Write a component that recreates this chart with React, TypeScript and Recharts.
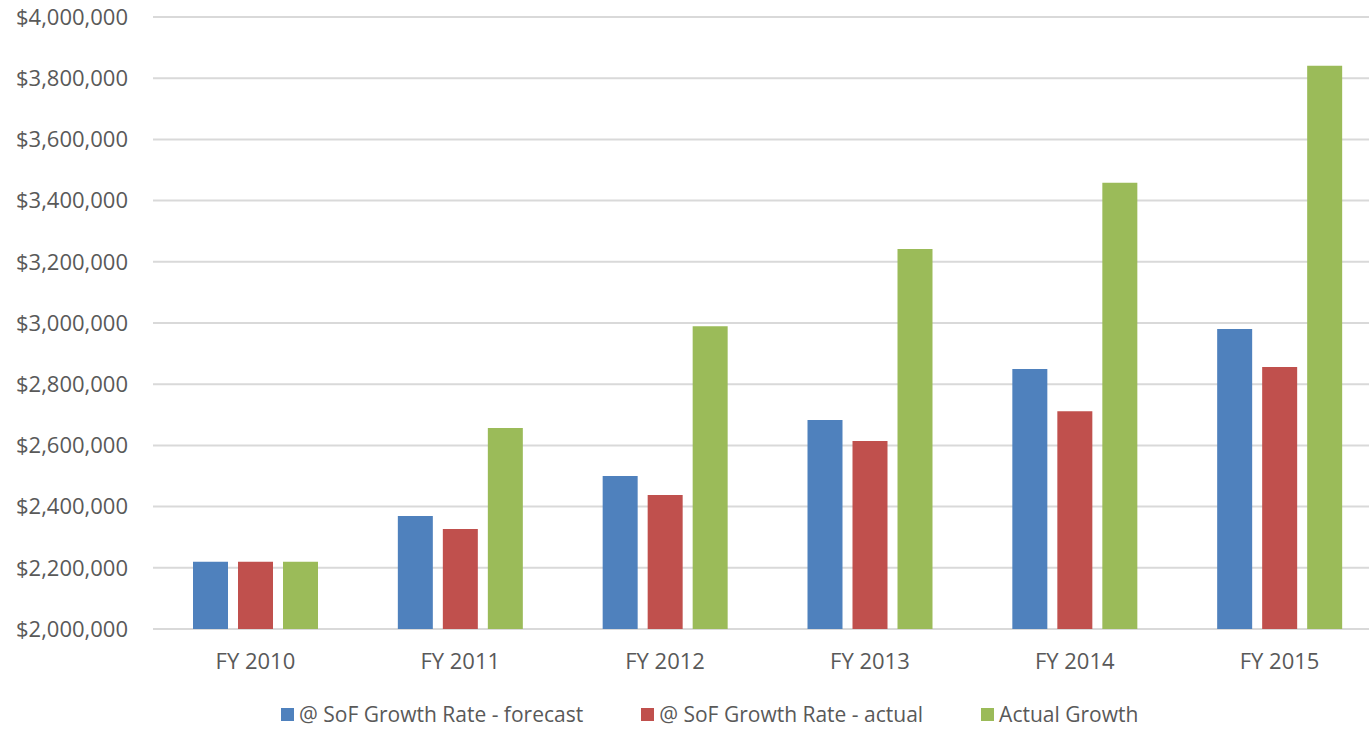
import React from "react";
import { BarChart, Bar, XAxis, YAxis, CartesianGrid, Legend } from "recharts";

const CATEGORIES = ["FY 2010", "FY 2011", "FY 2012", "FY 2013", "FY 2014", "FY 2015"];
const FORECAST = [2220000, 2369000, 2500000, 2683000, 2850000, 2980000];
const RATE_ACTUAL = [2220000, 2327000, 2438000, 2614000, 2712000, 2856000];
const ACTUAL_GROWTH = [2220000, 2657000, 2989000, 3242000, 3458000, 3841000];
const Y_TICKS = [2000000, 2200000, 2400000, 2600000, 2800000, 3000000, 3200000, 3400000, 3600000, 3800000, 4000000];

const SERIES = [
  { key: "forecast", name: "@ SoF Growth Rate - forecast", color: "#4F81BD" },
  { key: "rateActual", name: "@ SoF Growth Rate - actual", color: "#C0504D" },
  { key: "actualGrowth", name: "Actual Growth", color: "#9BBB59" },
];

const data = CATEGORIES.map((name, i) => ({
  name,
  forecast: FORECAST[i],
  rateActual: RATE_ACTUAL[i],
  actualGrowth: ACTUAL_GROWTH[i],
}));

const FONT = "'Open Sans', sans-serif";
const TEXT = "#595959";

const money = (v: number) => "$" + v.toLocaleString("en-US");

// legend laid out like the Excel one: square, small gap, label
function ChartLegend() {
  return (
    <div style={{ display: "flex", alignItems: "center", fontFamily: FONT, fontSize: 21, lineHeight: "20px", height: 20, color: TEXT, whiteSpace: "nowrap" }}>
      {SERIES.map((s, i) => (
        <div key={s.key} style={{ display: "flex", alignItems: "center", marginRight: i < SERIES.length - 1 ? 58 : 0 }}>
          <span style={{ width: 13, height: 13, background: s.color, display: "inline-block", marginRight: 5 }} />
          <span>{s.name}</span>
        </div>
      ))}
    </div>
  );
}

export default function App() {
  return (
    <div style={{ position: "fixed", top: 0, left: 0, width: 1369, height: 730, overflow: "hidden", background: "#fff" }}>
      <BarChart
        width={1382}
        height={730}
        data={data}
        margin={{ top: 17, right: 0, bottom: 0, left: 0 }}
        barSize={35}
        barGap={10}
      >
        <CartesianGrid vertical={false} stroke="#d9d9d9" strokeWidth={2} />
        <XAxis
          dataKey="name"
          height={101}
          axisLine={false}
          tickLine={false}
          tickSize={0}
          tickMargin={24}
          interval={0}
          tick={{ fill: TEXT, fontSize: 22, fontFamily: FONT }}
        />
        <YAxis
          width={153}
          domain={[2000000, 4000000]}
          ticks={Y_TICKS}
          tickFormatter={money}
          axisLine={false}
          tickLine={false}
          tickSize={0}
          tickMargin={25}
          interval={0}
          tick={{ fill: TEXT, fontSize: 22, fontFamily: FONT }}
        />
        <Legend
          layout="horizontal"
          verticalAlign="middle"
          align="center"
          content={() => <ChartLegend />}
          wrapperStyle={{ top: 704, left: 281, width: "auto", height: 20 }}
        />
        {SERIES.map((s) => (
          <Bar key={s.key} dataKey={s.key} name={s.name} fill={s.color} isAnimationActive={false} />
        ))}
      </BarChart>
    </div>
  );
}
